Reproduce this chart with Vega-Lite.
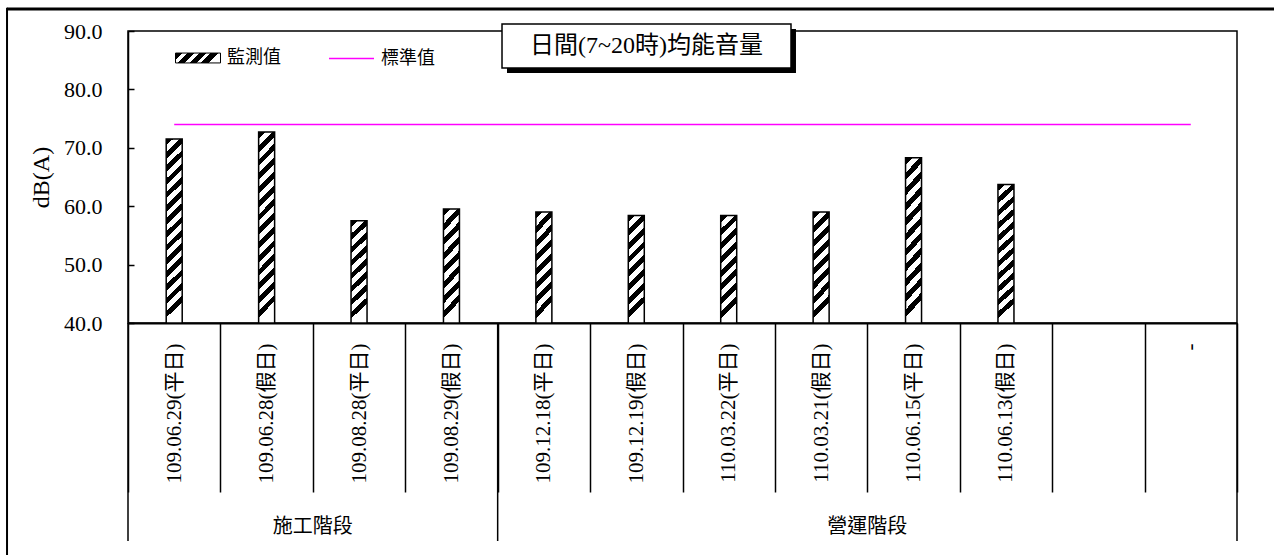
{
  "$schema": "https://vega.github.io/schema/vega-lite/v6.json",
  "width": 1109,
  "height": 292,
  "autosize": {"type": "none"},
  "padding": {"left": 128, "top": 31, "right": 37, "bottom": 232},
  "background": "white",
  "config": {
    "font": "Liberation Serif, Noto Sans CJK TC",
    "view": {"stroke": "black", "strokeWidth": 1.5}
  },
  "data": {
    "values": [
      {"date": "109.06.29(平日)", "stage": "施工階段", "value": 71.5, "standard": 74},
      {"date": "109.06.28(假日)", "stage": "施工階段", "value": 72.7, "standard": 74},
      {"date": "109.08.28(平日)", "stage": "施工階段", "value": 57.5, "standard": 74},
      {"date": "109.08.29(假日)", "stage": "施工階段", "value": 59.5, "standard": 74},
      {"date": "109.12.18(平日)", "stage": "營運階段", "value": 59.0, "standard": 74},
      {"date": "109.12.19(假日)", "stage": "營運階段", "value": 58.4, "standard": 74},
      {"date": "110.03.22(平日)", "stage": "營運階段", "value": 58.4, "standard": 74},
      {"date": "110.03.21(假日)", "stage": "營運階段", "value": 59.0, "standard": 74},
      {"date": "110.06.15(平日)", "stage": "營運階段", "value": 68.3, "standard": 74},
      {"date": "110.06.13(假日)", "stage": "營運階段", "value": 63.7, "standard": 74},
      {"date": " ", "stage": "營運階段", "value": null, "standard": 74},
      {"date": "-", "stage": "營運階段", "value": null, "standard": 74}
    ]
  },
  "resolve": {"scale": {"x": "independent"}},
  "layer": [
    {
      "encoding": {
        "x": {
          "field": "date", "type": "nominal", "sort": null,
          "scale": {"domain": ["109.06.29(平日)", "109.06.28(假日)", "109.08.28(平日)", "109.08.29(假日)", "109.12.18(平日)", "109.12.19(假日)", "110.03.22(平日)", "110.03.21(假日)", "110.06.15(平日)", "110.06.13(假日)", " ", "-"], "paddingInner": 0, "paddingOuter": 0},
          "axis": {
            "title": null, "labelAngle": 270, "labelFont": "Liberation Serif, Noto Sans CJK TC", "labelFontSize": 21,
            "labelColor": "black", "labelPadding": -149, "labelLimit": 0, "labelOverlap": false,
            "tickBand": "extent", "tickSize": 169, "tickColor": "black", "tickWidth": 1.5,
            "domainColor": "black", "domainWidth": 2, "grid": false
          }
        }
      },
      "layer": [
        {
          "transform": [{"filter": "isValid(datum.value) && datum.value >= 70"}],
          "mark": {"type": "bar", "width": 16, "strokeWidth": 1.5, "stroke": "black",
            "fill": {"gradient": "linear", "x1": 0, "y1": 0, "x2": 0.085, "y2": 1, "stops": [
              {"offset": 0, "color": "black"}, {"offset": 0.0357, "color": "black"}, {"offset": 0.0357, "color": "white"}, {"offset": 0.0714, "color": "white"},
              {"offset": 0.0714, "color": "black"}, {"offset": 0.1071, "color": "black"}, {"offset": 0.1071, "color": "white"}, {"offset": 0.1429, "color": "white"},
              {"offset": 0.1429, "color": "black"}, {"offset": 0.1786, "color": "black"}, {"offset": 0.1786, "color": "white"}, {"offset": 0.2143, "color": "white"},
              {"offset": 0.2143, "color": "black"}, {"offset": 0.25, "color": "black"}, {"offset": 0.25, "color": "white"}, {"offset": 0.2857, "color": "white"},
              {"offset": 0.2857, "color": "black"}, {"offset": 0.3214, "color": "black"}, {"offset": 0.3214, "color": "white"}, {"offset": 0.3571, "color": "white"},
              {"offset": 0.3571, "color": "black"}, {"offset": 0.3929, "color": "black"}, {"offset": 0.3929, "color": "white"}, {"offset": 0.4286, "color": "white"},
              {"offset": 0.4286, "color": "black"}, {"offset": 0.4643, "color": "black"}, {"offset": 0.4643, "color": "white"}, {"offset": 0.5, "color": "white"},
              {"offset": 0.5, "color": "black"}, {"offset": 0.5357, "color": "black"}, {"offset": 0.5357, "color": "white"}, {"offset": 0.5714, "color": "white"},
              {"offset": 0.5714, "color": "black"}, {"offset": 0.6071, "color": "black"}, {"offset": 0.6071, "color": "white"}, {"offset": 0.6429, "color": "white"},
              {"offset": 0.6429, "color": "black"}, {"offset": 0.6786, "color": "black"}, {"offset": 0.6786, "color": "white"}, {"offset": 0.7143, "color": "white"},
              {"offset": 0.7143, "color": "black"}, {"offset": 0.75, "color": "black"}, {"offset": 0.75, "color": "white"}, {"offset": 0.7857, "color": "white"},
              {"offset": 0.7857, "color": "black"}, {"offset": 0.8214, "color": "black"}, {"offset": 0.8214, "color": "white"}, {"offset": 0.8571, "color": "white"},
              {"offset": 0.8571, "color": "black"}, {"offset": 0.8929, "color": "black"}, {"offset": 0.8929, "color": "white"}, {"offset": 0.9286, "color": "white"},
              {"offset": 0.9286, "color": "black"}, {"offset": 0.9643, "color": "black"}, {"offset": 0.9643, "color": "white"}, {"offset": 1, "color": "white"}
            ]}
          },
          "encoding": {
            "y": {"field": "value", "type": "quantitative", "scale": {"domain": [40, 90], "nice": false, "zero": false},
              "axis": {"title": "dB(A)", "titleFont": "Liberation Serif", "titleFontSize": 24, "titleFontWeight": "normal", "titleColor": "black", "titlePadding": 10,
                "values": [40, 50, 60, 70, 80, 90], "format": ".1f", "labelFont": "Liberation Serif", "labelFontSize": 22, "labelColor": "black",
                "labelPadding": 32, "tickSize": -6, "tickColor": "black", "tickWidth": 1.5, "domainColor": "black", "domainWidth": 1.5, "grid": false}},
            "y2": {"datum": 40}
          }
        },
        {
          "transform": [{"filter": "isValid(datum.value) && datum.value >= 61 && datum.value < 70"}],
          "mark": {"type": "bar", "width": 16, "strokeWidth": 1.5, "stroke": "black",
            "fill": {"gradient": "linear", "x1": 0, "y1": 0, "x2": 0.105, "y2": 1, "stops": [
              {"offset": 0, "color": "black"}, {"offset": 0.0455, "color": "black"}, {"offset": 0.0455, "color": "white"}, {"offset": 0.0909, "color": "white"},
              {"offset": 0.0909, "color": "black"}, {"offset": 0.1364, "color": "black"}, {"offset": 0.1364, "color": "white"}, {"offset": 0.1818, "color": "white"},
              {"offset": 0.1818, "color": "black"}, {"offset": 0.2273, "color": "black"}, {"offset": 0.2273, "color": "white"}, {"offset": 0.2727, "color": "white"},
              {"offset": 0.2727, "color": "black"}, {"offset": 0.3182, "color": "black"}, {"offset": 0.3182, "color": "white"}, {"offset": 0.3636, "color": "white"},
              {"offset": 0.3636, "color": "black"}, {"offset": 0.4091, "color": "black"}, {"offset": 0.4091, "color": "white"}, {"offset": 0.4545, "color": "white"},
              {"offset": 0.4545, "color": "black"}, {"offset": 0.5, "color": "black"}, {"offset": 0.5, "color": "white"}, {"offset": 0.5455, "color": "white"},
              {"offset": 0.5455, "color": "black"}, {"offset": 0.5909, "color": "black"}, {"offset": 0.5909, "color": "white"}, {"offset": 0.6364, "color": "white"},
              {"offset": 0.6364, "color": "black"}, {"offset": 0.6818, "color": "black"}, {"offset": 0.6818, "color": "white"}, {"offset": 0.7273, "color": "white"},
              {"offset": 0.7273, "color": "black"}, {"offset": 0.7727, "color": "black"}, {"offset": 0.7727, "color": "white"}, {"offset": 0.8182, "color": "white"},
              {"offset": 0.8182, "color": "black"}, {"offset": 0.8636, "color": "black"}, {"offset": 0.8636, "color": "white"}, {"offset": 0.9091, "color": "white"},
              {"offset": 0.9091, "color": "black"}, {"offset": 0.9545, "color": "black"}, {"offset": 0.9545, "color": "white"}, {"offset": 1, "color": "white"}
            ]}
          },
          "encoding": {
            "y": {"field": "value", "type": "quantitative", "scale": {"domain": [40, 90], "nice": false, "zero": false}},
            "y2": {"datum": 40}
          }
        },
        {
          "transform": [{"filter": "isValid(datum.value) && datum.value < 61"}],
          "mark": {"type": "bar", "width": 16, "strokeWidth": 1.5, "stroke": "black",
            "fill": {"gradient": "linear", "x1": 0, "y1": 0, "x2": 0.148, "y2": 1, "stops": [
              {"offset": 0, "color": "black"}, {"offset": 0.0625, "color": "black"}, {"offset": 0.0625, "color": "white"}, {"offset": 0.125, "color": "white"},
              {"offset": 0.125, "color": "black"}, {"offset": 0.1875, "color": "black"}, {"offset": 0.1875, "color": "white"}, {"offset": 0.25, "color": "white"},
              {"offset": 0.25, "color": "black"}, {"offset": 0.3125, "color": "black"}, {"offset": 0.3125, "color": "white"}, {"offset": 0.375, "color": "white"},
              {"offset": 0.375, "color": "black"}, {"offset": 0.4375, "color": "black"}, {"offset": 0.4375, "color": "white"}, {"offset": 0.5, "color": "white"},
              {"offset": 0.5, "color": "black"}, {"offset": 0.5625, "color": "black"}, {"offset": 0.5625, "color": "white"}, {"offset": 0.625, "color": "white"},
              {"offset": 0.625, "color": "black"}, {"offset": 0.6875, "color": "black"}, {"offset": 0.6875, "color": "white"}, {"offset": 0.75, "color": "white"},
              {"offset": 0.75, "color": "black"}, {"offset": 0.8125, "color": "black"}, {"offset": 0.8125, "color": "white"}, {"offset": 0.875, "color": "white"},
              {"offset": 0.875, "color": "black"}, {"offset": 0.9375, "color": "black"}, {"offset": 0.9375, "color": "white"}, {"offset": 1, "color": "white"}
            ]}
          },
          "encoding": {
            "y": {"field": "value", "type": "quantitative", "scale": {"domain": [40, 90], "nice": false, "zero": false}},
            "y2": {"datum": 40}
          }
        },
        {
          "transform": [{"filter": "false"}],
          "mark": {"type": "bar", "width": 16, "strokeWidth": 1, "stroke": "black",
            "fill": {"gradient": "linear", "x1": 0, "y1": 0, "x2": 1, "y2": 0.22, "stops": [
              {"offset": 0, "color": "black"}, {"offset": 0.15, "color": "black"}, {"offset": 0.15, "color": "white"}, {"offset": 0.25, "color": "white"},
              {"offset": 0.25, "color": "black"}, {"offset": 0.4, "color": "black"}, {"offset": 0.4, "color": "white"}, {"offset": 0.5, "color": "white"},
              {"offset": 0.5, "color": "black"}, {"offset": 0.65, "color": "black"}, {"offset": 0.65, "color": "white"}, {"offset": 0.75, "color": "white"},
              {"offset": 0.75, "color": "black"}, {"offset": 0.9, "color": "black"}, {"offset": 0.9, "color": "white"}, {"offset": 1, "color": "white"}]}
          },
          "encoding": {
            "y": {"field": "value", "type": "quantitative", "scale": {"domain": [40, 90], "nice": false, "zero": false}},
            "y2": {"datum": 40},
            "stroke": {"datum": "監測值", "scale": {"domain": ["監測值"], "range": ["black"]},
              "legend": {
                "title": null, "orient": "none", "legendX": 47, "legendY": 4, "padding": 0,
                "symbolType": "M-1,-0.22H1V0.22H-1Z", "symbolSize": 2025, "symbolStrokeWidth": 1, "symbolOpacity": 1,
                "labelFont": "Noto Sans CJK TC", "labelFontSize": 18, "labelColor": "black", "labelOffset": 6
              }}
          }
        },
        {
          "mark": {"type": "line", "strokeWidth": 1.5, "stroke": "#FF00FF"},
          "encoding": {
            "y": {"field": "standard", "type": "quantitative", "scale": {"domain": [40, 90], "nice": false, "zero": false}},
            "strokeDash": {"datum": "標準值", "scale": {"domain": ["標準值"], "range": [[1, 0]]},
              "legend": {
                "title": null, "orient": "none", "legendX": 200, "legendY": 4, "padding": 0,
                "symbolType": "stroke", "symbolSize": 2025, "symbolStrokeWidth": 1.5, "symbolStrokeColor": "#FF00FF", "symbolOpacity": 1,
                "labelFont": "Noto Sans CJK TC", "labelFontSize": 18, "labelColor": "black", "labelOffset": 6
              }}
          }
        }
      ]
    },
    {
      "data": {"values": [{}]},
      "layer": [
        {
          "mark": {"type": "rule", "stroke": "black", "strokeWidth": 3},
          "encoding": {
            "x": {"datum": -1.309, "type": "quantitative", "scale": {"domain": [0, 12], "nice": false, "zero": false}, "axis": null},
            "x2": {"datum": 12.6},
            "y": {"datum": 93.77, "type": "quantitative", "scale": {"domain": [40, 90], "nice": false, "zero": false}}
          }
        },
        {
          "mark": {"type": "rule", "stroke": "black", "strokeWidth": 2},
          "encoding": {
            "x": {"datum": -1.309, "type": "quantitative", "scale": {"domain": [0, 12], "nice": false, "zero": false}, "axis": null},
            "y": {"datum": 94.0, "type": "quantitative", "scale": {"domain": [40, 90], "nice": false, "zero": false}},
            "y2": {"datum": -5}
          }
        },
        {
          "mark": {"type": "rule", "stroke": "black", "strokeWidth": 1.5},
          "encoding": {
            "x": {"datum": 0, "type": "quantitative", "scale": {"domain": [0, 12], "nice": false, "zero": false}, "axis": null},
            "y": {"datum": 40, "type": "quantitative", "scale": {"domain": [40, 90], "nice": false, "zero": false}},
            "y2": {"datum": 2.67}
          }
        },
        {
          "mark": {"type": "rule", "stroke": "black", "strokeWidth": 1.5},
          "encoding": {
            "x": {"datum": 4, "type": "quantitative", "scale": {"domain": [0, 12], "nice": false, "zero": false}, "axis": null},
            "y": {"datum": 40, "type": "quantitative", "scale": {"domain": [40, 90], "nice": false, "zero": false}},
            "y2": {"datum": 2.67}
          }
        },
        {
          "mark": {"type": "rule", "stroke": "black", "strokeWidth": 1.5},
          "encoding": {
            "x": {"datum": 12, "type": "quantitative", "scale": {"domain": [0, 12], "nice": false, "zero": false}, "axis": null},
            "y": {"datum": 40, "type": "quantitative", "scale": {"domain": [40, 90], "nice": false, "zero": false}},
            "y2": {"datum": 2.67}
          }
        },
        {
          "mark": {"type": "text", "font": "Noto Sans CJK TC", "fontSize": 20, "color": "black", "align": "center", "baseline": "middle"},
          "encoding": {
            "x": {"datum": 2, "type": "quantitative", "scale": {"domain": [0, 12], "nice": false, "zero": false}, "axis": null},
            "y": {"datum": 5.07, "type": "quantitative", "scale": {"domain": [40, 90], "nice": false, "zero": false}},
            "text": {"value": "施工階段"}
          }
        },
        {
          "mark": {"type": "text", "font": "Noto Sans CJK TC", "fontSize": 20, "color": "black", "align": "center", "baseline": "middle"},
          "encoding": {
            "x": {"datum": 8, "type": "quantitative", "scale": {"domain": [0, 12], "nice": false, "zero": false}, "axis": null},
            "y": {"datum": 5.07, "type": "quantitative", "scale": {"domain": [40, 90], "nice": false, "zero": false}},
            "text": {"value": "營運階段"}
          }
        },
        {
          "mark": {"type": "rect", "fill": "black"},
          "encoding": {
            "x": {"datum": 4.101, "type": "quantitative", "scale": {"domain": [0, 12], "nice": false, "zero": false}, "axis": null},
            "x2": {"datum": 7.228},
            "y": {"datum": 90.34, "type": "quantitative", "scale": {"domain": [40, 90], "nice": false, "zero": false}},
            "y2": {"datum": 82.81}
          }
        },
        {
          "mark": {"type": "rect", "fill": "white", "stroke": "black", "strokeWidth": 1.5},
          "encoding": {
            "x": {"datum": 4.047, "type": "quantitative", "scale": {"domain": [0, 12], "nice": false, "zero": false}, "axis": null},
            "x2": {"datum": 7.174},
            "y": {"datum": 91.2, "type": "quantitative", "scale": {"domain": [40, 90], "nice": false, "zero": false}},
            "y2": {"datum": 83.66}
          }
        },
        {
          "mark": {"type": "text", "font": "Liberation Serif, Noto Sans CJK TC", "fontSize": 24, "color": "black", "align": "center", "baseline": "middle"},
          "encoding": {
            "x": {"datum": 5.61, "type": "quantitative", "scale": {"domain": [0, 12], "nice": false, "zero": false}, "axis": null},
            "y": {"datum": 87.43, "type": "quantitative", "scale": {"domain": [40, 90], "nice": false, "zero": false}},
            "text": {"value": "日間(7~20時)均能音量"}
          }
        }
      ]
    }
  ]
}
